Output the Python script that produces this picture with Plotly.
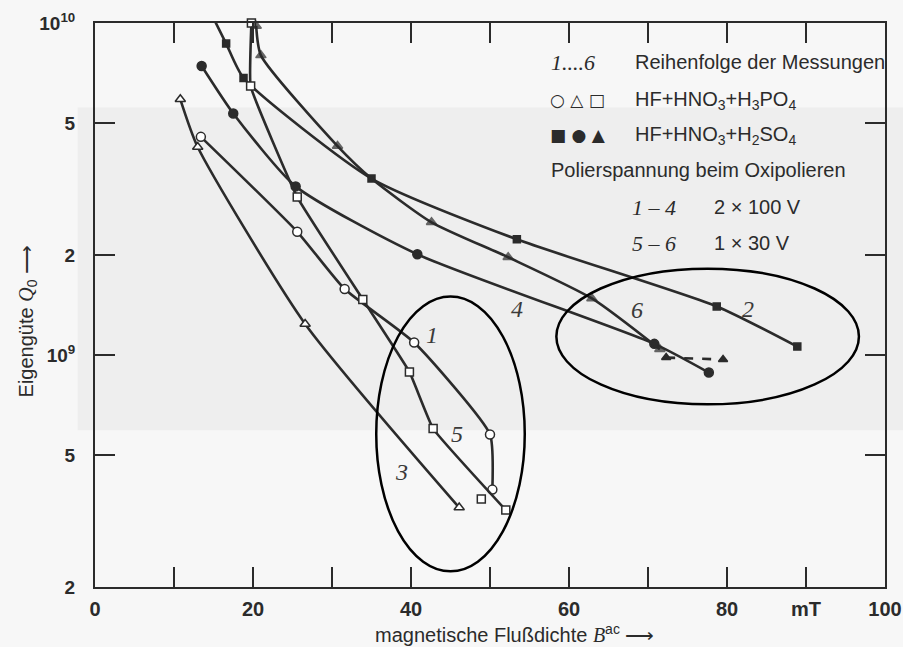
import numpy as np
import plotly.graph_objects as go

# ---------------- data ----------------
# Curve 1: open circles (HF+HNO3+H3PO4)
c1_x = [13.4, 25.6, 31.6, 40.4, 50.0, 50.3]
c1_y = [4.54e9, 2.35e9, 1.58e9, 1.09e9, 5.76e8, 3.93e8]
# Curve 2: filled squares (HF+HNO3+H2SO4)
c2_x = [14.6, 16.6, 18.8, 35.0, 53.4, 78.7, 88.9]
c2_y = [1.08e10, 8.67e9, 6.83e9, 3.40e9, 2.23e9, 1.40e9, 1.06e9]
# Curve 3: open triangles
c3_x = [10.8, 13.0, 26.6, 46.1]
c3_y = [5.89e9, 4.23e9, 1.24e9, 3.47e8]
# Curve 4: filled circles
c4_x = [13.5, 17.5, 25.4, 40.8, 70.8, 77.7]
c4_y = [7.42e9, 5.34e9, 3.22e9, 2.01e9, 1.08e9, 8.85e8]
# Curve 5: open squares
c5_x = [19.8, 19.7, 25.6, 33.9, 39.8, 42.8, 52.0]
c5_y = [1.0e10, 6.46e9, 2.99e9, 1.47e9, 8.89e8, 6.0e8, 3.41e8]
c5_extra_x = [48.9]
c5_extra_y = [3.68e8]
# Curve 6: filled triangles
c6_x = [20.4, 21.0, 30.7, 35.0, 42.6, 52.3, 62.9, 71.5]
c6_y = [9.8e9, 7.99e9, 4.26e9, 3.40e9, 2.51e9, 1.97e9, 1.48e9, 1.04e9]
c6_marker = [1, 1, 1, 0, 1, 1, 1, 1]
c6_dash_x = [72.3, 79.5]
c6_dash_y = [9.82e8, 9.69e8]

# curve number labels
lab_text = ["1", "2", "3", "4", "5", "6"]
lab_x = [42.6, 82.7, 38.8, 53.4, 45.8, 68.6]
lab_y = [1.147e9, 1.38e9, 4.44e8, 1.38e9, 5.80e8, 1.37e9]

# ellipses (data coordinates)
ell_x0 = [35.6, 58.4]
ell_x1 = [54.4, 96.7]
ell_y0 = [2.23e8, 7.1e8]
ell_y1 = [1.50e9, 1.82e9]

# axis ticks
x_tickvals = [0, 10, 20, 30, 40, 50, 60, 70, 80, 90, 100]
x_ticktext = ["0", "", "20", "", "40", "", "60", "", "80", "mT", "100"]
y_tickvals = [2e8, 5e8, 1e9, 2e9, 5e9, 1e10]
y_ticktext = ["2", "5", "10<sup>9</sup>", "2", "5", "10<sup>10</sup>"]

# ---------------- styling ----------------
INK = "#2b2b2b"
LW = 2.6
SANS = "Liberation Sans, Arial, sans-serif"
SERIF = "Liberation Serif, Times New Roman, serif"

fig = go.Figure()


def curve(x, y, symbol, filled, size, dash="solid", sizes=None, shape="spline",
          smoothing=0.6):
    msize = size if sizes is None else [size * s for s in sizes]
    fig.add_trace(go.Scatter(
        x=x, y=y, mode="lines+markers",
        line=dict(color=INK, width=LW, shape=shape, smoothing=smoothing, dash=dash),
        marker=dict(symbol=symbol, size=msize,
                    color=INK if filled else "white",
                    line=dict(color=INK, width=1.5)),
        cliponaxis=False, hoverinfo="skip"))


curve(c1_x, c1_y, "circle", False, 9, smoothing=0.5)
curve(c2_x, c2_y, "square", True, 7)
curve(c3_x, c3_y, "triangle-up", False, 9)
curve(c4_x, c4_y, "circle", True, 9)
curve(c5_x, c5_y, "square", False, 8, smoothing=0.3)
fig.add_trace(go.Scatter(x=c5_extra_x, y=c5_extra_y, mode="markers",
                         marker=dict(symbol="square", size=8, color="white",
                                     line=dict(color=INK, width=1.5)),
                         cliponaxis=False, hoverinfo="skip"))
curve(c6_x, c6_y, "triangle-up", True, 9, sizes=c6_marker)
curve(c6_dash_x, c6_dash_y, "triangle-up", True, 8, dash="dash", shape="linear")

# ellipses
for a, b, c, d in zip(ell_x0, ell_x1, ell_y0, ell_y1):
    fig.add_shape(type="circle", xref="x", yref="y", x0=a, x1=b, y0=c, y1=d,
                  line=dict(color="black", width=2.5), layer="above")

# faint grey photo background blob
fig.add_shape(type="rect", xref="paper", yref="paper", x0=-0.022, x1=1.03,
              y0=0.278, y1=0.85, fillcolor="#eeeeee", line=dict(width=0),
              layer="below")

# curve labels
for t, x, y in zip(lab_text, lab_x, lab_y):
    fig.add_annotation(x=x, y=np.log10(y), xref="x", yref="y", text="<i>%s</i>" % t,
                       showarrow=False, xanchor="center", yanchor="middle",
                       font=dict(family=SERIF, size=24, color="#3a3a3a"))

# legend text block
leg = [
    (0.575, 0.930, "<i>1....6</i>", SERIF, 22),
    (0.6806, 0.930, "Reihenfolge der Messungen", SANS, 20),
    (0.573, 0.8629, "○ △ □", "DejaVu Sans, sans-serif", 17),
    (0.6806, 0.8629, "HF+HNO<sub>3</sub>+H<sub>3</sub>PO<sub>4</sub>", SANS, 20),
    (0.573, 0.8009, "■ ● ▲", "DejaVu Sans, sans-serif", 17),
    (0.6806, 0.8009, "HF+HNO<sub>3</sub>+H<sub>2</sub>SO<sub>4</sub>", SANS, 20),
    (0.575, 0.7388, "Polierspannung beim Oxipolieren", SANS, 20),
    (0.677, 0.6732, "<i>1 – 4</i>", SERIF, 22),
    (0.7806, 0.6732, "2 × 100 V", SANS, 20),
    (0.677, 0.6094, "<i>5 – 6</i>", SERIF, 22),
    (0.7806, 0.6094, "1 × 30 V", SANS, 20),
]
for x, y, t, f, s in leg:
    fig.add_annotation(x=x, y=y, xref="paper", yref="paper", text=t, showarrow=False,
                       xanchor="left", yanchor="middle",
                       font=dict(family=f, size=s, color=INK))

# axis titles
fig.add_annotation(x=-0.086, y=0.471, xref="paper", yref="paper", textangle=-90,
                   xanchor="center", yanchor="middle",
                   text="Eigengüte <i><span style='font-family:Liberation Serif'>Q</span></i><sub>0</sub> ⟶",
                   showarrow=False, font=dict(family=SANS, size=20, color=INK))
fig.add_annotation(x=0.5316, y=-0.082, xref="paper", yref="paper",
                   xanchor="center", yanchor="middle",
                   text="magnetische Flußdichte <i><span style='font-family:Liberation Serif'>B</span></i><sup>ac</sup> ⟶",
                   showarrow=False, font=dict(family=SANS, size=20, color=INK))

axis_common = dict(showline=True, linewidth=2, linecolor=INK, mirror="ticks",
                   ticks="inside", ticklen=20, tickwidth=2, tickcolor=INK,
                   showgrid=False, zeroline=False, automargin=False,
                   ticklabeloverflow="allow")

fig.update_xaxes(range=[0, 100], tickmode="array", tickvals=x_tickvals,
                 ticktext=x_ticktext, ticklabelstandoff=3,
                 tickfont=dict(family=SANS, size=20, color=INK, weight="bold"),
                 **axis_common)
fig.update_yaxes(type="log", range=[np.log10(2e8), 10], tickmode="array",
                 tickvals=y_tickvals, ticktext=y_ticktext, ticklabelstandoff=14,
                 tickfont=dict(family=SANS, size=19, color=INK, weight="bold"),
                 **axis_common)

fig.update_layout(width=903, height=647, margin=dict(l=95, r=18, t=23, b=60),
                  paper_bgcolor="#f7f7f7", plot_bgcolor="rgba(0,0,0,0)",
                  showlegend=False, font=dict(family=SANS, color=INK))

# remove the browser's default 8px body margin so the figure fills the window
fig.write_html("out.html",
               config={"displayModeBar": False},
               post_script="document.body.style.margin='0';"
                           "document.documentElement.style.overflow='hidden';"
                           "document.body.style.background='#f7f7f7';")
